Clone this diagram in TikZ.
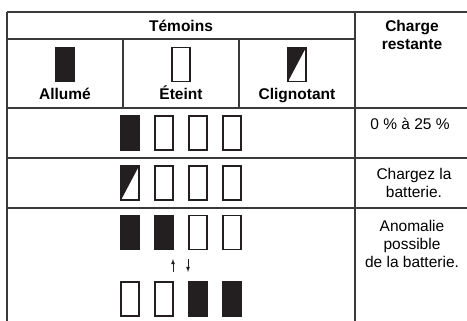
\documentclass[tikz,border=0pt]{standalone}
\usepackage{fontspec}
\setmainfont{Liberation Sans}
\usepackage{tikz}
\usetikzlibrary{arrows,shapes}
\definecolor{ink}{HTML}{231F20}
\definecolor{rulegray}{HTML}{3A3A3A}
\tikzstyle{lamp}=[draw=ink,line width=1.1pt,minimum width=18pt,minimum height=34pt,inner sep=0pt,outer sep=0pt]
\tikzstyle{lampon}=[lamp,fill=ink]
\tikzstyle{lampoff}=[lamp,fill=white]
\tikzstyle{lampblink}=[lamp,fill=white,path picture={\fill[ink] (path picture bounding box.north west) -- (path picture bounding box.north east) -- (path picture bounding box.south west) -- cycle;}]
\tikzstyle{rule}=[draw=rulegray,line width=1.3pt]
\tikzstyle{head}=[font=\bfseries\fontsize{15.5}{18}\selectfont,inner sep=0pt,align=center]
\tikzstyle{txt}=[font=\fontsize{15.5}{18}\selectfont,inner sep=0pt,align=center]

\begin{document}
\begin{tikzpicture}[x=1pt,y=-1pt]
    \useasboundingbox (0,0) rectangle (467,321);
    % Table rules
    \draw[rule] (7,12) -- (467,12);
    \draw[rule] (7,39) -- (355,39);
    \foreach \y in {108,158,208}
        \draw[rule] (7,\y) -- (467,\y);
    \draw[rule] (7,12) -- (7,321);
    \draw[rule] (355,12) -- (355,321);
    \foreach \x in {123,239}
        \draw[rule] (\x,39) -- (\x,108);

    % Header texts
    \node[head,anchor=base] (temoins) at (181,32) {Témoins};
    \node[head,anchor=north] (charge) at (412,20) {Charge\\restante};

    % Legend of the three lamp states
    \foreach \pos/\name/\kind in {{(65,64.5)/legon/lampon}, {(181,64.5)/legoff/lampoff}, {(297,64.5)/legblink/lampblink}}
        \node[\kind] (\name) at \pos {};
    \foreach \pos/\name/\text in {{(65,100)/allume/Allumé}, {(181,100)/eteint/Éteint}, {(297,100)/clignotant/Clignotant}}
        \node[head,anchor=base] (\name) at \pos {\text};

    % Row: 0 % to 25 %
    \foreach \pos/\name/\kind in {{(130,133)/A_1/lampon}, {(164,133)/A_2/lampoff}, {(198,133)/A_3/lampoff}, {(232,133)/A_4/lampoff}}
        \node[\kind] (\name) at \pos {};
    \node[txt,anchor=base] (level) at (410,130) {0 \% à 25 \%};

    % Row: charge the battery
    \foreach \pos/\name/\kind in {{(130,183)/B_1/lampblink}, {(164,183)/B_2/lampoff}, {(198,183)/B_3/lampoff}, {(232,183)/B_4/lampoff}}
        \node[\kind] (\name) at \pos {};
    \node[txt,anchor=north] (chargez) at (414,168.5) {Chargez la\\batterie.};

    % Row: possible battery fault
    \foreach \pos/\name/\kind in {{(130,232.5)/C_1/lampon}, {(164,232.5)/C_2/lampon}, {(198,232.5)/C_3/lampoff}, {(232,232.5)/C_4/lampoff},
                                  {(130,299)/D_1/lampoff}, {(164,299)/D_2/lampoff}, {(198,299)/D_3/lampon}, {(232,299)/D_4/lampon}}
        \node[\kind] (\name) at \pos {};
    \coordinate (upfoot) at (173,272);
    \coordinate (uptip) at (173,259);
    \coordinate (downfoot) at (188,259);
    \coordinate (downtip) at (188,272);
    \draw[ink,line width=0.8pt,-latex] (upfoot) -- (uptip);
    \draw[ink,line width=0.8pt,-latex] (downfoot) -- (downtip);
    \node[txt,anchor=north] (anomalie) at (412,220) {Anomalie\\possible\\de la batterie.};
\end{tikzpicture}
\end{document}
